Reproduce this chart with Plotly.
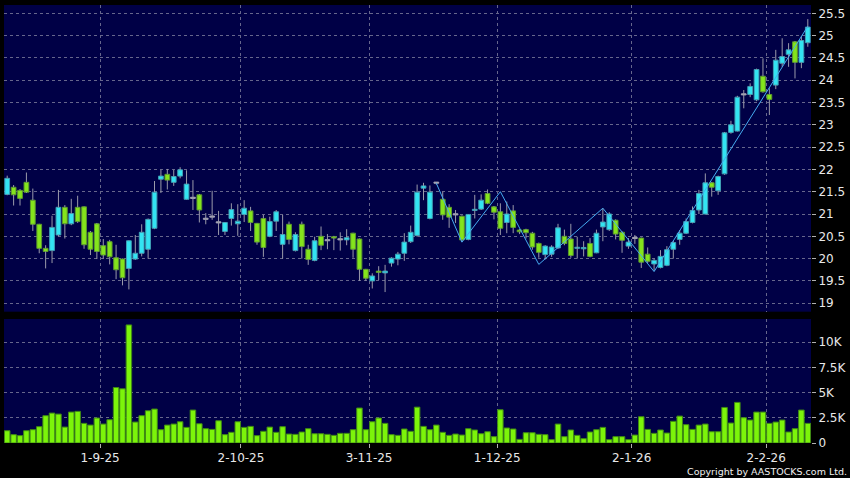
import pandas as pd
import plotly.graph_objects as go

# ---------------- data ----------------
hk_holidays = ["2025-10-01", "2025-10-07", "2025-10-29", "2025-12-25", "2025-12-26", "2026-01-01"]
dates = [d.strftime("%Y-%m-%d") for d in pd.bdate_range("2025-08-12", "2026-02-11")
         if d.strftime("%Y-%m-%d") not in hk_holidays]

open_ = [21.44, 21.60, 21.53, 21.71, 21.31, 20.77, 20.23, 20.18, 20.53, 21.15,
         20.78, 21.15, 21.16, 20.59, 20.78, 20.29, 20.38, 20.02, 19.99, 19.78,
         19.99, 20.12, 20.21, 20.68, 21.78, 21.89, 21.71, 21.85, 21.33, 21.35,
         21.43, 20.88, 20.93, 20.80, 20.61, 20.90, 20.78, 20.99, 21.07, 20.79,
         20.90, 20.50, 20.84, 20.32, 20.77, 20.18, 20.77, 20.21, 19.96, 20.50,
         20.40, 20.49, 20.42, 20.42, 20.57, 20.44, 19.76, 19.50, 19.72, 19.68,
         19.90, 19.99, 20.12, 20.38, 20.52, 21.58, 20.90, 21.69, 21.33, 21.15,
         20.98, 20.95, 20.43, 21.08, 21.11, 21.46, 21.16, 21.05, 20.81, 21.07,
         20.64, 20.65, 20.57, 20.34, 20.09, 20.10, 20.24, 20.50, 20.44, 20.23,
         20.22, 20.34, 20.13, 20.71, 20.65, 20.86, 20.59, 20.28, 20.45, 20.46,
         20.10, 19.88, 19.80, 19.85, 20.21, 20.43, 20.57, 20.81, 21.09, 21.00,
         21.70, 21.52, 21.90, 22.83, 22.86, 23.67, 23.68, 23.56, 24.09, 23.68,
         23.89, 24.38, 24.58, 24.86, 24.40, 24.84]
high = [21.86, 21.65, 21.56, 21.93, 21.57, 20.78, 20.30, 20.96, 21.54, 21.20,
        21.34, 21.41, 21.17, 20.62, 20.80, 20.44, 20.42, 20.31, 20.00, 20.41,
        20.53, 20.77, 20.90, 21.74, 21.99, 22.01, 21.99, 22.05, 21.98, 21.76,
        21.45, 21.02, 21.52, 21.07, 20.82, 21.24, 21.22, 21.31, 21.16, 20.80,
        20.98, 20.94, 21.09, 20.98, 20.83, 20.59, 20.83, 20.31, 20.49, 20.72,
        20.55, 20.51, 20.59, 20.66, 20.58, 20.45, 19.77, 19.67, 19.83, 19.86,
        20.03, 20.15, 20.57, 20.74, 21.66, 21.70, 21.64, 21.70, 21.50, 21.22,
        21.09, 20.97, 21.00, 21.43, 21.44, 21.55, 21.18, 21.24, 21.28, 21.20,
        20.66, 20.67, 20.60, 20.36, 20.30, 20.30, 20.78, 20.65, 20.78, 20.49,
        20.39, 20.46, 20.65, 21.13, 21.04, 20.88, 20.61, 20.46, 20.53, 20.47,
        20.25, 20.00, 20.19, 20.28, 20.40, 20.64, 20.90, 21.17, 21.54, 21.91,
        21.72, 21.86, 22.84, 23.09, 23.65, 23.78, 23.93, 24.26, 24.49, 23.82,
        24.68, 24.94, 24.83, 24.88, 24.98, 25.37]
low = [21.42, 21.19, 21.19, 21.47, 20.62, 20.12, 19.78, 19.90, 20.50, 20.45,
       20.75, 20.80, 20.22, 20.08, 19.99, 19.99, 19.87, 19.54, 19.40, 19.31,
       19.97, 20.05, 20.00, 20.66, 21.47, 21.55, 21.63, 21.80, 21.32, 21.09,
       20.81, 20.77, 20.87, 20.53, 20.53, 20.74, 20.51, 20.82, 20.62, 20.31,
       20.04, 20.48, 20.62, 20.00, 20.32, 20.16, 20.00, 19.86, 19.94, 20.19,
       20.21, 20.19, 20.18, 20.30, 20.02, 19.50, 19.50, 19.33, 19.52, 19.25,
       19.82, 19.85, 19.95, 20.35, 20.49, 21.31, 20.88, 21.66, 20.87, 20.69,
       20.80, 20.37, 20.41, 20.90, 21.09, 21.22, 20.88, 20.53, 20.57, 20.57,
       20.55, 20.45, 20.20, 20.02, 19.98, 20.04, 20.22, 20.30, 20.02, 20.00,
       20.05, 20.03, 20.12, 20.39, 20.62, 20.43, 20.13, 20.22, 20.33, 19.79,
       19.90, 19.72, 19.78, 19.83, 20.00, 20.31, 20.55, 20.79, 21.00, 20.99,
       21.39, 21.43, 21.88, 22.80, 22.85, 23.37, 23.62, 23.53, 23.72, 23.22,
       23.80, 24.30, 24.30, 24.04, 24.27, 24.75]
close = [21.80, 21.43, 21.35, 21.49, 20.77, 20.23, 20.16, 20.70, 21.15, 20.78,
         21.01, 20.83, 20.31, 20.21, 20.16, 20.08, 20.04, 19.75, 19.57, 20.40,
         20.12, 20.59, 20.88, 21.49, 21.85, 21.76, 21.84, 21.99, 21.67, 21.35,
         21.09, 20.88, 20.93, 20.80, 20.81, 21.10, 20.84, 21.13, 20.81, 20.37,
         20.25, 20.83, 21.05, 20.54, 20.43, 20.54, 20.27, 19.98, 20.40, 20.30,
         20.40, 20.46, 20.42, 20.47, 20.21, 19.76, 19.56, 19.61, 19.69, 19.72,
         20.01, 20.10, 20.37, 20.59, 21.49, 21.63, 21.49, 21.69, 20.98, 20.93,
         20.98, 20.42, 20.99, 21.10, 21.31, 21.24, 21.04, 20.68, 21.00, 20.70,
         20.60, 20.58, 20.26, 20.14, 20.28, 20.26, 20.69, 20.34, 20.07, 20.24,
         20.25, 20.05, 20.57, 20.82, 21.00, 20.55, 20.41, 20.37, 20.45, 19.92,
         19.94, 19.96, 20.05, 20.20, 20.36, 20.57, 20.83, 21.08, 21.46, 21.70,
         21.60, 21.84, 22.82, 23.00, 23.62, 23.67, 23.86, 24.24, 23.74, 23.57,
         24.45, 24.53, 24.68, 24.40, 24.89, 25.19]
volume = [1220, 830, 730, 1220, 1320, 1620, 2710, 2970, 2870, 1580,
          3070, 3140, 1950, 1780, 2480, 1880, 2310, 5510, 5380, 11720,
          2080, 2710, 3200, 3370, 1320, 1780, 1880, 2110, 1550, 3270,
          1910, 1420, 1350, 2210, 830, 1060, 2110, 1550, 1650, 730,
          1160, 1580, 1060, 1620, 890, 860, 1090, 1420, 920, 920,
          860, 760, 960, 960, 1320, 3470, 1320, 2110, 2480, 1950,
          830, 760, 1390, 1160, 3560, 1650, 1320, 1780, 1060, 760,
          890, 790, 1420, 1290, 920, 1120, 630, 3300, 1490, 1390,
          360, 1020, 1020, 860, 830, 330, 1880, 630, 1290, 760,
          430, 1090, 1320, 1550, 330, 630, 630, 330, 790, 2610,
          1350, 960, 1290, 990, 2150, 2670, 1820, 1350, 1780, 1880,
          1120, 1120, 3530, 1980, 4030, 2510, 2280, 3070, 3070, 1950,
          2080, 2280, 1090, 1420, 3270, 1950]

zigzag_idx = [67, 71, 77, 83, 93, 101, 125]
zigzag_val = [21.69, 20.37, 21.50, 19.87, 21.13, 19.71, 25.21]

tick_dates = ["2025-09-01", "2025-10-02", "2025-11-03", "2025-12-01", "2026-01-02", "2026-02-02"]
tick_labels = ["1-9-25", "2-10-25", "3-11-25", "1-12-25", "2-1-26", "2-2-26"]

price_ticks = [19, 19.5, 20, 20.5, 21, 21.5, 22, 22.5, 23, 23.5, 24, 24.5, 25, 25.5]
vol_ticks = [0, 2500, 5000, 7500, 10000]
vol_tick_labels = ["0", "2.5K", "5K", "7.5K", "10K"]

# ---------------- styling ----------------
UP_FILL, UP_LINE = "#33e4f2", "#3f9fb4"
DN_FILL, DN_LINE = "#84e41c", "#5b9a2c"
DOJI = "#a4a4b4"
WICK = "#9a9aaa"
GRID = "#66668c"
NAVY = "#000046"

idx = list(range(len(dates)))
x_tick_vals = [dates.index(d) + 0.5 for d in tick_dates]

# wicks: separate upper and lower segments so they do not cross bodies
wx, wy = [], []
for i, o, h, l, c in zip(idx, open_, high, low, close):
    top, bot = max(o, c), min(o, c)
    if h > top:
        wx += [i, i, None]
        wy += [top, h, None]
    if l < bot:
        wx += [i, i, None]
        wy += [l, bot, None]

bases, heights, fills, lines = [], [], [], []
for o, c in zip(open_, close):
    bases.append(min(o, c))
    heights.append(max(abs(c - o), 0.025))
    if c > o:
        fills.append(UP_FILL); lines.append(UP_LINE)
    elif c < o:
        fills.append(DN_FILL); lines.append(DN_LINE)
    else:
        fills.append(DOJI); lines.append(DOJI)

fig = go.Figure()
fig.add_trace(go.Bar(x=idx, y=heights, base=bases, width=0.74,
                     marker=dict(color=fills, line=dict(color=lines, width=1)),
                     xaxis="x", yaxis="y", hoverinfo="skip"))
fig.add_trace(go.Scatter(x=wx, y=wy, mode="lines", line=dict(color=WICK, width=1),
                         xaxis="x", yaxis="y", hoverinfo="skip"))
fig.add_trace(go.Scatter(x=zigzag_idx, y=zigzag_val, mode="lines",
                         line=dict(color="#45aaf0", width=1),
                         xaxis="x", yaxis="y", hoverinfo="skip"))
fig.add_trace(go.Bar(x=idx, y=volume, width=0.86,
                     marker=dict(color="#7cf40a", line=dict(color="#3f8a14", width=1)),
                     xaxis="x2", yaxis="y2", hoverinfo="skip"))

axis_font = dict(family="DejaVu Sans", size=12, color="#e8e8e8")
grid_common = dict(showgrid=True, gridcolor=GRID, gridwidth=1, griddash="3px,3px",
                   zeroline=False, showline=False)

fig.update_layout(
    width=850, height=478,
    margin=dict(l=4, r=36, t=5, b=35),
    paper_bgcolor="#000000", plot_bgcolor=NAVY,
    showlegend=False, barmode="overlay",
    font=axis_font,
    xaxis=dict(domain=[0, 1], anchor="y", range=[-0.5, len(idx) - 0.5],
               tickmode="array", tickvals=x_tick_vals, showticklabels=False,
               ticks="", **grid_common),
    xaxis2=dict(domain=[0, 1], anchor="y2", matches="x", range=[-0.5, len(idx) - 0.5],
                tickmode="array", tickvals=x_tick_vals, ticktext=tick_labels,
                ticks="outside", ticklen=4, tickcolor="#b0b0b0", tickfont=axis_font,
                **grid_common),
    yaxis=dict(domain=[0.2998, 1], anchor="x", side="right", range=[18.81, 25.686],
               tickmode="array", tickvals=price_ticks,
               ticktext=[f"{v:g}" for v in price_ticks],
               ticks="outside", ticklen=4, tickcolor="#b0b0b0", tickfont=axis_font,
               **grid_common),
    yaxis2=dict(domain=[0, 0.2831], anchor="x2", side="right", range=[0, 12310],
                tickmode="array", tickvals=vol_ticks, ticktext=vol_tick_labels,
                ticks="outside", ticklen=4, tickcolor="#b0b0b0", tickfont=axis_font,
                **grid_common),
    annotations=[dict(text="Copyright by AASTOCKS.com Ltd.", xref="paper", yref="paper",
                      x=1.047, y=-0.064, xanchor="right", yanchor="middle",
                      showarrow=False, font=dict(family="DejaVu Sans", size=9.5, color="#f0f0f0"))],
)

fig.write_html("out.html", config={"displayModeBar": False},
               post_script="document.body.style.margin='0';document.body.style.overflow='hidden';")
